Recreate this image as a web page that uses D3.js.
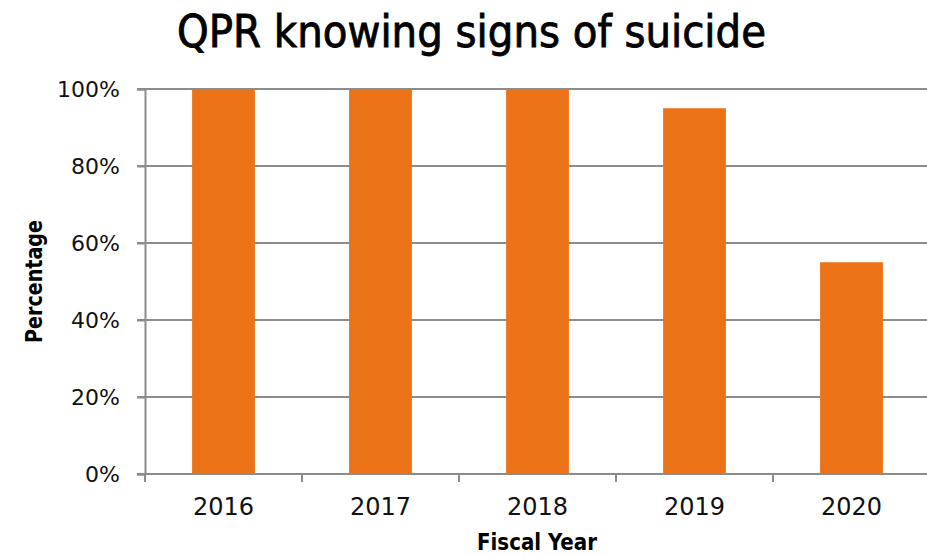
<!DOCTYPE html>
<html>
<head>
<meta charset="utf-8">
<script src="https://cdn.jsdelivr.net/npm/d3@7"></script>
<style>
  html, body { margin: 0; padding: 0; background: #fff; }
  svg { display: block; }
</style>
</head>
<body>
<svg id="chart" width="927" height="556"></svg>
<script>
// Share of QPR participants knowing the signs of suicide, by fiscal year
const years = ["2016", "2017", "2018", "2019", "2020"];
const percentages = [100, 100, 100, 95, 55];
const yTicks = [0, 20, 40, 60, 80, 100];

const W = 927, H = 556;
const margin = { top: 89, right: -3, bottom: 82, left: 145 };
const innerW = W - margin.left - margin.right;
const innerH = H - margin.top - margin.bottom;

const labelFont = "'DejaVu Sans', Verdana, sans-serif";
const titleFont = "'DejaVu Sans Condensed', 'DejaVu Sans', sans-serif";

const svg = d3.select("#chart");

const x = d3.scaleBand()
  .domain(years)
  .range([margin.left, margin.left + innerW])
  .paddingInner(0.6)
  .paddingOuter(0.3);

const y = d3.scaleLinear()
  .domain([0, 100])
  .range([margin.top + innerH, margin.top]);

const gridColor = "#8c8c8c";

// Horizontal gridlines
svg.append("g")
  .selectAll("line")
  .data(yTicks)
  .join("line")
  .attr("x1", margin.left - 8)
  .attr("x2", margin.left + innerW)
  .attr("y1", d => y(d))
  .attr("y2", d => y(d))
  .attr("stroke", gridColor)
  .attr("stroke-width", 2);

// Bars
svg.append("g")
  .selectAll("rect")
  .data(years.map((yr, i) => ({ yr, v: percentages[i] })))
  .join("rect")
  .attr("x", d => x(d.yr))
  .attr("width", x.bandwidth())
  .attr("y", d => y(d.v))
  .attr("height", d => y(0) - y(d.v))
  .attr("fill", "#ec7218");

// Y axis
const yAxis = svg.append("g")
  .attr("transform", `translate(${margin.left},0)`)
  .call(d3.axisLeft(y).tickValues(yTicks).tickFormat(d => d + "%").tickSize(8).tickPadding(17));
yAxis.select(".domain").attr("stroke", gridColor).attr("stroke-width", 2);
yAxis.selectAll(".tick line").attr("stroke", gridColor).attr("stroke-width", 2);
yAxis.selectAll("text")
  .attr("font-family", labelFont)
  .attr("font-size", 22)
  .attr("fill", "#111");

// X axis: ticks sit between categories
const step = x.step();
const xBoundaries = d3.range(years.length + 1).map(i => margin.left + i * step);
const xAxisG = svg.append("g");
xAxisG.append("line")
  .attr("x1", margin.left).attr("x2", margin.left + innerW)
  .attr("y1", y(0)).attr("y2", y(0))
  .attr("stroke", gridColor).attr("stroke-width", 2);
xAxisG.selectAll("line.tick")
  .data(xBoundaries)
  .join("line")
  .attr("class", "tick")
  .attr("x1", d => d).attr("x2", d => d)
  .attr("y1", y(0)).attr("y2", y(0) + 8)
  .attr("stroke", gridColor).attr("stroke-width", 2);
xAxisG.selectAll("text")
  .data(years)
  .join("text")
  .attr("x", d => x(d) + x.bandwidth() / 2)
  .attr("y", y(0) + 41)
  .attr("text-anchor", "middle")
  .attr("font-family", labelFont)
  .attr("font-size", 24)
  .attr("fill", "#111")
  .text(d => d);

// Title
svg.append("text")
  .attr("x", 177)
  .attr("y", 47)
  .attr("font-family", titleFont)
  .attr("font-size", 44)
  .attr("textLength", 589)
  .attr("lengthAdjust", "spacingAndGlyphs")
  .attr("fill", "#000")
  .attr("stroke", "#000")
  .attr("stroke-width", 0.8)
  .text("QPR knowing signs of suicide");

// Axis titles
svg.append("text")
  .attr("x", 477)
  .attr("y", 550)
  .attr("font-family", titleFont)
  .attr("font-weight", "bold")
  .attr("font-size", 23)
  .attr("textLength", 120)
  .attr("lengthAdjust", "spacingAndGlyphs")
  .attr("fill", "#000")
  .text("Fiscal Year");

svg.append("text")
  .attr("transform", `translate(42,343) rotate(-90)`)
  .attr("font-family", titleFont)
  .attr("font-weight", "bold")
  .attr("font-size", 23)
  .attr("textLength", 123)
  .attr("lengthAdjust", "spacingAndGlyphs")
  .attr("fill", "#000")
  .text("Percentage");
</script>
</body>
</html>
